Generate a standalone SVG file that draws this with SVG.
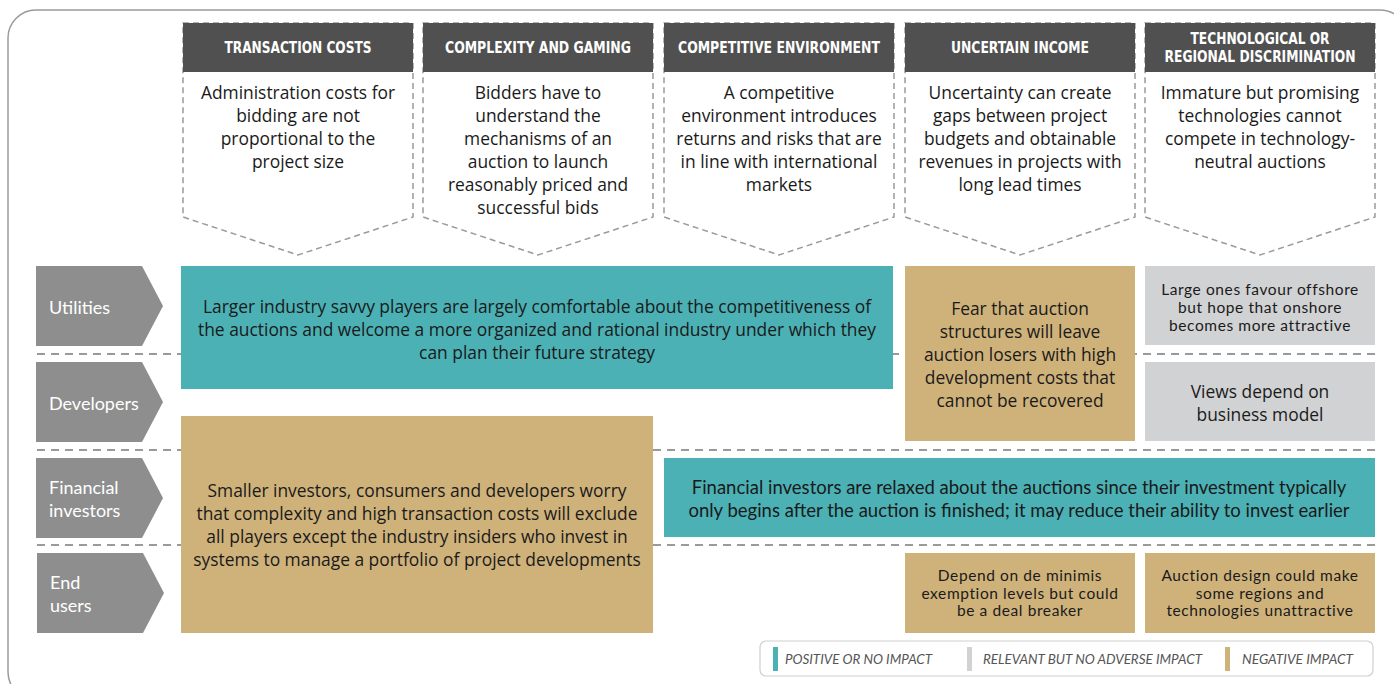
<svg xmlns="http://www.w3.org/2000/svg" width="1394" height="684" viewBox="0 0 1394 684">
<defs>
<style>
.frame{fill:#fff;stroke:#9a9a9a;stroke-width:1.5}
.col{fill:#fff;stroke:#9a9a9a;stroke-width:1.5;stroke-dasharray:6 4}
.hdr{fill:#505050}
.ht{fill:#fff;font-family:"Liberation Sans Narrow","DejaVu Sans Condensed",Roboto,sans-serif;font-weight:bold;font-size:16px;text-anchor:middle}
.bt{fill:#1a1a1a;font-family:"Open Sans",Lato,sans-serif;font-size:17.4px;text-anchor:middle}
.ct{fill:#1a1a1a;font-family:Lato,"Open Sans",sans-serif;font-size:18.5px;text-anchor:middle}
.st{fill:#1a1a1a;font-family:Lato,"Open Sans",sans-serif;font-size:15.5px;letter-spacing:0.6px;text-anchor:middle}
.teal{fill:#4bb1b5}
.tan{fill:#cfb27a}
.gry{fill:#d1d2d4}
.chev{fill:#8e8e8e}
.lt{fill:#fff;font-family:Lato,"Open Sans",sans-serif;font-size:18px}
.sep{stroke:#9a9a9a;stroke-width:2;stroke-dasharray:8 6;fill:none}
.leg{fill:#fff;stroke:#cfcfcf;stroke-width:1.2}
.lg{fill:#555;font-family:Lato,"Open Sans",sans-serif;font-size:13px;font-style:italic}
</style>
</defs>
<rect class="frame" x="8" y="10" width="1400" height="690" rx="28"/>

<g id="connectors">
<line class="sep" x1="37" y1="354" x2="1375" y2="354"/>
<line class="sep" x1="37" y1="450" x2="1375" y2="450"/>
<line class="sep" x1="37" y1="545" x2="1375" y2="545"/>
</g>

<g id="col-transaction">
<path class="col" d="M183 23H413V217L298 255L183 217Z"/>
<rect class="hdr" x="183" y="23" width="230" height="49"/>
<text class="ht" x="298" y="53" textLength="147" lengthAdjust="spacingAndGlyphs">TRANSACTION COSTS</text>
<text class="bt" x="298" y="99">Administration costs for</text>
<text class="bt" x="298" y="122">bidding are not</text>
<text class="bt" x="298" y="145">proportional to the</text>
<text class="bt" x="298" y="168">project size</text>
</g>
<g id="col-complexity">
<path class="col" d="M423 23H653V217L538 255L423 217Z"/>
<rect class="hdr" x="423" y="23" width="230" height="49"/>
<text class="ht" x="538" y="53" textLength="186" lengthAdjust="spacingAndGlyphs">COMPLEXITY AND GAMING</text>
<text class="bt" x="538" y="99">Bidders have to</text>
<text class="bt" x="538" y="122">understand the</text>
<text class="bt" x="538" y="145">mechanisms of an</text>
<text class="bt" x="538" y="168">auction to launch</text>
<text class="bt" x="538" y="191">reasonably priced and</text>
<text class="bt" x="538" y="214">successful bids</text>
</g>
<g id="col-competitive">
<path class="col" d="M664 23H894V217L779 255L664 217Z"/>
<rect class="hdr" x="664" y="23" width="230" height="49"/>
<text class="ht" x="779" y="53" textLength="202" lengthAdjust="spacingAndGlyphs">COMPETITIVE ENVIRONMENT</text>
<text class="bt" x="779" y="99">A competitive</text>
<text class="bt" x="779" y="122">environment introduces</text>
<text class="bt" x="779" y="145">returns and risks that are</text>
<text class="bt" x="779" y="168">in line with international</text>
<text class="bt" x="779" y="191">markets</text>
</g>
<g id="col-income">
<path class="col" d="M905 23H1135V217L1020 255L905 217Z"/>
<rect class="hdr" x="905" y="23" width="230" height="49"/>
<text class="ht" x="1020" y="53" textLength="138" lengthAdjust="spacingAndGlyphs">UNCERTAIN INCOME</text>
<text class="bt" x="1020" y="99">Uncertainty can create</text>
<text class="bt" x="1020" y="122">gaps between project</text>
<text class="bt" x="1020" y="145">budgets and obtainable</text>
<text class="bt" x="1020" y="168">revenues in projects with</text>
<text class="bt" x="1020" y="191">long lead times</text>
</g>
<g id="col-discrimination">
<path class="col" d="M1145 23H1375V217L1260 255L1145 217Z"/>
<rect class="hdr" x="1145" y="23" width="230" height="49"/>
<text class="ht" x="1260" y="44" textLength="139" lengthAdjust="spacingAndGlyphs">TECHNOLOGICAL OR</text>
<text class="ht" x="1260" y="62" textLength="191" lengthAdjust="spacingAndGlyphs">REGIONAL DISCRIMINATION</text>
<text class="bt" x="1260" y="99">Immature but promising</text>
<text class="bt" x="1260" y="122">technologies cannot</text>
<text class="bt" x="1260" y="145">compete in technology-</text>
<text class="bt" x="1260" y="168">neutral auctions</text>
</g>

<g id="row-utilities">
<path class="chev" d="M36 266H142L163 306L142 346H36Z"/>
<text class="lt" x="49" y="314">Utilities</text>
</g>
<g id="row-developers">
<path class="chev" d="M36 362H142L163 402L142 442H36Z"/>
<text class="lt" x="49" y="410">Developers</text>
</g>
<g id="row-financial">
<path class="chev" d="M36 458H142L163 498L142 538H36Z"/>
<text class="lt" x="49" y="494">Financial</text>
<text class="lt" x="49" y="517">investors</text>
</g>
<g id="row-endusers">
<path class="chev" d="M37 553H143L164 593L143 633H37Z"/>
<text class="lt" x="50" y="589">End</text>
<text class="lt" x="50" y="612">users</text>
</g>

<g id="box-larger">
<rect class="teal" x="181" y="266" width="712" height="123"/>
<text class="bt" x="537" y="313">Larger industry savvy players are largely comfortable about the competitiveness of</text>
<text class="bt" x="537" y="336">the auctions and welcome a more organized and rational industry under which they</text>
<text class="bt" x="537" y="359">can plan their future strategy</text>
</g>
<g id="box-fear">
<rect class="tan" x="905" y="266" width="230" height="175"/>
<text class="bt" x="1020" y="315">Fear that auction</text>
<text class="bt" x="1020" y="338">structures will leave</text>
<text class="bt" x="1020" y="361">auction losers with high</text>
<text class="bt" x="1020" y="384">development costs that</text>
<text class="bt" x="1020" y="407">cannot be recovered</text>
</g>
<g id="box-large-ones">
<rect class="gry" x="1145" y="266" width="230" height="79"/>
<text class="st" x="1260" y="295">Large ones favour offshore</text>
<text class="st" x="1260" y="313">but hope that onshore</text>
<text class="st" x="1260" y="331">becomes more attractive</text>
</g>
<g id="box-views">
<rect class="gry" x="1145" y="362" width="230" height="79"/>
<text class="bt" x="1260" y="398">Views depend on</text>
<text class="bt" x="1260" y="421">business model</text>
</g>
<g id="box-smaller">
<rect class="tan" x="181" y="416" width="472" height="217"/>
<text class="bt" x="417" y="497">Smaller investors, consumers and developers worry</text>
<text class="bt" x="417" y="520">that complexity and high transaction costs will exclude</text>
<text class="bt" x="417" y="543">all players except the industry insiders who invest in</text>
<text class="bt" x="417" y="566">systems to manage a portfolio of project developments</text>
</g>
<g id="box-financial">
<rect class="teal" x="664" y="458" width="711" height="79"/>
<text class="ct" x="1019" y="494">Financial investors are relaxed about the auctions since their investment typically</text>
<text class="ct" x="1019" y="517">only begins after the auction is finished; it may reduce their ability to invest earlier</text>
</g>
<g id="box-depend">
<rect class="tan" x="905" y="553" width="230" height="80"/>
<text class="st" x="1020" y="581">Depend on de minimis</text>
<text class="st" x="1020" y="598.5">exemption levels but could</text>
<text class="st" x="1020" y="616">be a deal breaker</text>
</g>
<g id="box-auction-design">
<rect class="tan" x="1145" y="553" width="230" height="80"/>
<text class="st" x="1260" y="581">Auction design could make</text>
<text class="st" x="1260" y="598.5">some regions and</text>
<text class="st" x="1260" y="616">technologies unattractive</text>
</g>

<g id="legend">
<rect class="leg" x="760" y="641" width="613" height="35" rx="6"/>
<rect class="teal" x="773" y="647" width="5" height="24"/>
<text class="lg" x="785" y="664" textLength="147" lengthAdjust="spacingAndGlyphs">POSITIVE OR NO IMPACT</text>
<rect class="gry" x="967" y="647" width="5" height="24"/>
<text class="lg" x="983" y="664" textLength="219" lengthAdjust="spacingAndGlyphs">RELEVANT BUT NO ADVERSE IMPACT</text>
<rect class="tan" x="1225" y="647" width="5" height="24"/>
<text class="lg" x="1242" y="664" textLength="111" lengthAdjust="spacingAndGlyphs">NEGATIVE IMPACT</text>
</g>
</svg>
